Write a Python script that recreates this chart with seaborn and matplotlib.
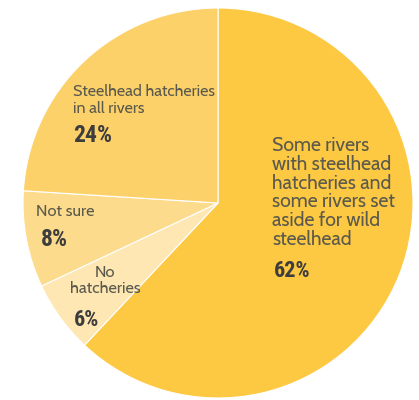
import matplotlib
matplotlib.use("Agg")
import matplotlib.pyplot as plt
from matplotlib import font_manager
import seaborn as sns

# Data
categories = ["Some rivers\nwith steelhead\nhatcheries and\nsome rivers set\naside for wild\nsteelhead",
              "No\nhatcheries", "Not sure", "Steelhead hatcheries\nin all rivers"]
values = [62, 6, 8, 24]
pct_labels = ["62%", "6%", "8%", "24%"]
colors = ["#FDC842", "#FEE7B2", "#FDDB8C", "#FDD16A"]

sns.set_style("white")
names = {f.name for f in font_manager.fontManager.ttflist}

def pick(cands, default):
    for c in cands:
        if c in names:
            return c
    return default

label_font = pick(["Cabin", "Lato"], "DejaVu Sans")
pct_font = pick(["Roboto Condensed", "Oswald", "Liberation Sans Narrow"], "DejaVu Sans")
pct_kw = dict(family=pct_font, fontweight="bold")

W, H = 419, 400
fig = plt.figure(figsize=(W / 100, H / 100), dpi=100)
cx, cy, r = 218, 203, 195
ax = fig.add_axes([(cx - r) / W, (H - cy - r) / H, 2 * r / W, 2 * r / H])
ax.pie(values, colors=colors, startangle=90, counterclock=False, radius=1,
       wedgeprops=dict(edgecolor="white", linewidth=0.8))
ax.set_xlim(-1, 1)
ax.set_ylim(-1, 1)
ax.set_aspect("equal")
ax.axis("off")

def fx(x):
    return x / W

def fy(y):
    return 1 - y / H

lab_col = "#5b5a4c"
pct_col = "#3d3d3d"

# va="baseline" on multi-line text aligns the last line's baseline
fig.text(fx(272), fy(245), categories[0], ha="left", va="baseline", fontsize=14,
         family=label_font, color=lab_col, linespacing=0.92)
fig.text(fx(274), fy(277), pct_labels[0], ha="left", va="baseline", fontsize=16,
         color=pct_col, **pct_kw)

fig.text(fx(105), fy(293), categories[1], ha="center", va="baseline", fontsize=11.8,
         family=label_font, color=lab_col, linespacing=1.03)
fig.text(fx(74), fy(326), pct_labels[1], ha="left", va="baseline", fontsize=16,
         color=pct_col, **pct_kw)

fig.text(fx(36), fy(216), categories[2], ha="left", va="baseline", fontsize=11.8,
         family=label_font, color=lab_col)
fig.text(fx(41), fy(246), pct_labels[2], ha="left", va="baseline", fontsize=17,
         color=pct_col, **pct_kw)

fig.text(fx(73), fy(113), categories[3], ha="left", va="baseline", fontsize=11.6,
         family=label_font, color=lab_col, linespacing=1.1)
fig.text(fx(73), fy(142), pct_labels[3], ha="left", va="baseline", fontsize=17,
         color=pct_col, **pct_kw)

fig.savefig("out.png", dpi=100)
